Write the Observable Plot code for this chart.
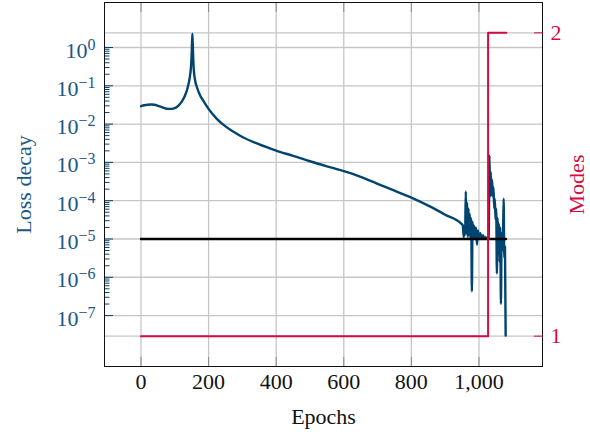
<!DOCTYPE html>
<html><head><meta charset="utf-8">
<script src="https://cdn.jsdelivr.net/npm/d3@7"></script>
<script src="https://cdn.jsdelivr.net/npm/@observablehq/plot@0.6"></script>
<style>
html,body{margin:0;padding:0;background:#fff;}
#wrap{position:relative;width:590px;height:434px;overflow:hidden;background:#fff;}
#wrap svg{position:absolute;left:0;top:0;}
</style></head><body><div id="wrap"></div>
<script>
// ---- data ----
const epochs = [0,10,20,30,40,50,60,70,80,90,100,110,120,130,138,144,148,150,152,154,156,160,166,175,185,200,225,250,275,300,350,400,450,500,550,600,650,700,750,800,850,900,950,
  952,955,957,959,961,963,965,967,969,971,973,975,977,979,981,983,985,988,991,994,997,1000,1004,1008,1012,1016,1020,1025,1029,
  1031,1033,1035,1037,1039,1041,1043,1045,1047,1049,1051,1053,1055,1057,1059,1061,1063,1065,1067,1069,1071,1073,1075,1077,1079];
const loss = [2.95e-2,3.1e-2,3.2e-2,3.25e-2,3.2e-2,3.0e-2,2.8e-2,2.6e-2,2.5e-2,2.5e-2,2.6e-2,3.0e-2,3.8e-2,5.5e-2,8.9e-2,0.16,0.32,0.7,2.3,0.7,0.28,0.14,8.9e-2,5.6e-2,4.0e-2,2.5e-2,1.35e-2,8.7e-3,6.2e-3,4.6e-3,2.95e-3,2.04e-3,1.48e-3,1.07e-3,7.9e-4,5.9e-4,4.2e-4,2.75e-4,1.82e-4,1.2e-4,7.4e-5,4.3e-5,2.4e-5,
  2.29e-5,1.12e-5,2.19e-5,1.26e-5,1.74e-4,1.41e-5,8.9e-5,1.12e-5,6.3e-5,1.26e-5,4.5e-5,1.0e-5,3.5e-5,4.3e-7,2.8e-5,1.12e-5,2.24e-5,1.0e-5,2.0e-5,7.1e-6,1.66e-5,1.05e-5,1.41e-5,1.0e-5,1.26e-5,1.0e-5,1.12e-5,1.0e-5,1.05e-5,
  1.51e-3,1.26e-4,5.6e-4,1.41e-4,3.5e-4,1.26e-4,2.24e-4,6.3e-5,1.12e-4,3.2e-5,6.3e-5,1.26e-6,3.5e-5,1.26e-5,2.5e-5,2.5e-6,2.0e-5,2.0e-7,1.41e-5,5.0e-6,1.0e-5,1.12e-4,3.2e-6,6.3e-6,3.0e-8];
const tolEpochs = [0, 1080];
const tolerance = [1e-5, 1e-5];
const modeEpochs = [0, 1027, 1081];
const modes = [1, 2, 2];
const xTicks = [0, 200, 400, 600, 800, 1000];
const yMajor = [1e0,1e-1,1e-2,1e-3,1e-4,1e-5,1e-6,1e-7];
const yMinorMult = [2,3,4,5,6,7,8,9];
const modeTicks = [1, 2];

// ---- tables ----
const lossData = epochs.map((e,i)=>({epoch:e, loss:loss[i]}));
const tolData = tolEpochs.map((e,i)=>({epoch:e, loss:tolerance[i]}));
const modeData = modeEpochs.map((e,i)=>({epoch:e, mode:modes[i]}));
const yMinor = [];
for (const d of yMajor.slice(1)) for (const m of yMinorMult) yMinor.push(d*m);

const BLUE = "#00446f", BLUE_T = "#1d5684", RED = "#d40a40", GRID = "#c6c6c6";
const W = 590, H = 434;
const M = {marginLeft:104, marginRight:48, marginTop:2, marginBottom:68};
const xDomain = [-108, 1188];
const yDomain = [Math.pow(10,-8.33), Math.pow(10,1.175)];
const modeDomain = [0.9, 2.1];
const FONT = "'Liberation Serif', 'DejaVu Serif', serif";
const style = {fontFamily: FONT, fontSize: "22px", background: "transparent", overflow: "hidden"};

const wrap = document.getElementById("wrap");

// layer A: modes grid lines
const A = Plot.plot({width:W, height:H, ...M, style,
  x:{domain:xDomain, axis:null}, y:{domain:modeDomain, axis:null},
  marks:[Plot.gridY(modeTicks, {stroke:GRID, strokeOpacity:1, strokeWidth:1.3})]
});

// layer B: loss
const B = Plot.plot({width:W, height:H, ...M, style,
  x:{domain:xDomain}, y:{type:"log", domain:yDomain},
  marks:[
    Plot.gridX(xTicks, {stroke:GRID, strokeOpacity:1, strokeWidth:1.3}),
    Plot.gridY(yMajor, {stroke:GRID, strokeOpacity:1, strokeWidth:1.3}),
    Plot.line(lossData, {x:"epoch", y:"loss", stroke:BLUE, strokeWidth:2.4, curve:"monotone-x"}),
    Plot.line(tolData, {x:"epoch", y:"loss", stroke:"#000", strokeWidth:2.4}),
    Plot.axisX(xTicks, {anchor:"bottom", tickSize:0, tickPadding:7, tickFormat:d3.format(","), color:"#111", label:null}),
    Plot.axisX(xTicks, {anchor:"bottom", tickSize:-9, tickFormat:()=>"", stroke:"#8a8a8a", label:null}),
    Plot.axisX(xTicks, {anchor:"top", tickSize:-9, tickFormat:()=>"", stroke:"#8a8a8a", label:null}),
    Plot.axisY(yMajor, {anchor:"left", tickSize:0, tickPadding:9, dy:3, color:BLUE_T, label:null,
      tickFormat:d=>{const k=Math.round(Math.log10(d)); return (k<0?"\u2212":"")+Math.abs(k);}}),
    Plot.axisY(yMajor, {anchor:"left", tickSize:-9, tickFormat:()=>"", stroke:BLUE, label:null}),
    Plot.axisY(yMinor, {anchor:"left", tickSize:-5.5, tickFormat:()=>"", stroke:BLUE, label:null}),
    Plot.frame({stroke:"#111", strokeWidth:1}),
    Plot.text(["Epochs"], {frameAnchor:"bottom", dy:50, lineAnchor:"middle", textAnchor:"middle", fill:"#111"}),
    Plot.text(["Loss decay"], {frameAnchor:"left", dx:-81, rotate:-90, textAnchor:"middle", lineAnchor:"middle", fill:BLUE_T})
  ]
});

// superscript exponents
const ns = "http://www.w3.org/2000/svg";
B.querySelectorAll('[aria-label="y-axis tick label"] text').forEach(t=>{
  const e = t.textContent; if (!e) return;
  t.textContent = "";
  const a = document.createElementNS(ns,"tspan"); a.textContent = "10";
  const b = document.createElementNS(ns,"tspan"); b.textContent = e;
  b.setAttribute("dy","-8"); b.setAttribute("font-size","16");
  t.append(a,b);
});

// layer C: modes
const C = Plot.plot({width:W, height:H, ...M, style,
  x:{domain:xDomain, axis:null}, y:{domain:modeDomain},
  marks:[
    Plot.line(modeData, {x:"epoch", y:"mode", curve:"step-after", stroke:RED, strokeWidth:2}),
    Plot.axisY(modeTicks, {anchor:"right", tickSize:0, tickPadding:8, tickFormat:d3.format("d"), color:RED, label:null}),
    Plot.axisY(modeTicks, {anchor:"right", tickSize:-9, tickFormat:()=>"", stroke:RED, label:null}),
    Plot.text(["Modes"], {frameAnchor:"right", dx:34, rotate:-90, textAnchor:"middle", lineAnchor:"middle", fill:RED})
  ]
});

wrap.append(A, B, C);
</script></body></html>
